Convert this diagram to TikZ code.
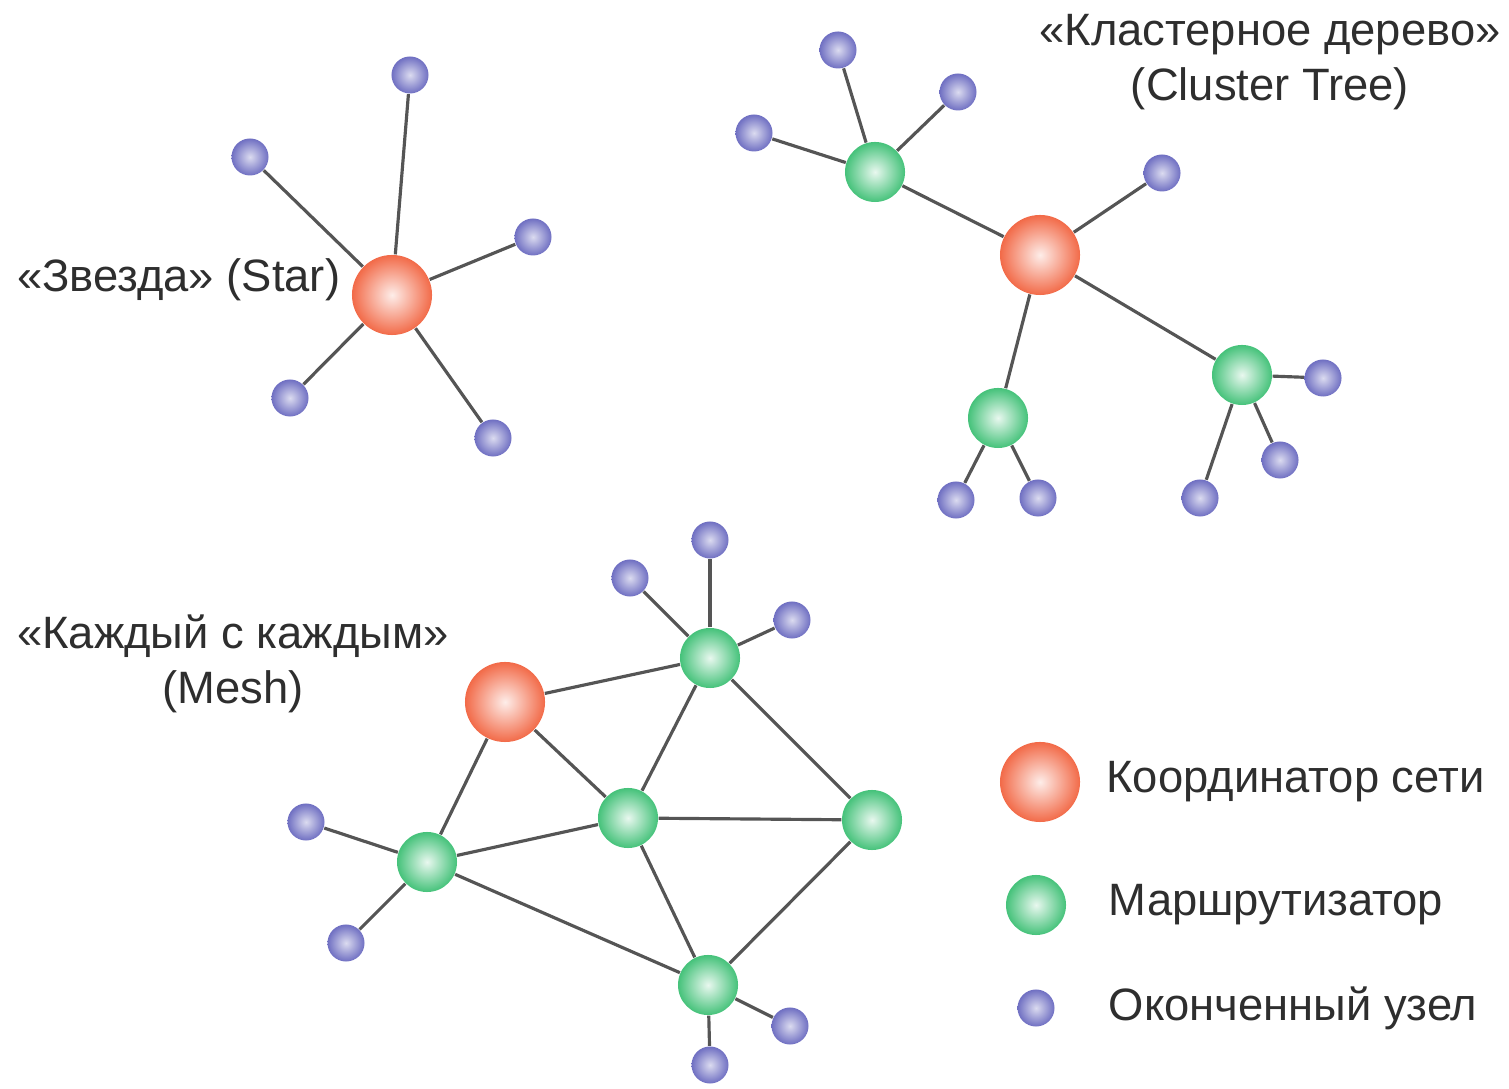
\documentclass[tikz,border=0pt]{standalone}
\usepackage{fontspec}
\setmainfont{Liberation Sans}
\usetikzlibrary{positioning,backgrounds}
\definecolor{nwInk}{HTML}{2E2E2E}
\definecolor{nwLine}{HTML}{555555}
\definecolor{nwOrange}{HTML}{F26A48}
\definecolor{nwGreen}{HTML}{45C27A}
\definecolor{nwPurple}{HTML}{6F6FC2}
\tikzset{
  crd/.style={circle, draw=none, shading=radial, inner color=nwOrange!12, outer color=nwOrange, minimum size=0.8cm, inner sep=0pt},
  rtr/.style={circle, draw=none, shading=radial, inner color=nwGreen!12, outer color=nwGreen, minimum size=0.6cm, inner sep=0pt},
  endn/.style={circle, draw=none, shading=radial, inner color=nwPurple!25, outer color=nwPurple, minimum size=0.37cm, inner sep=0pt},
  lnk/.style={draw=nwLine, line width=0.9pt},
  ttl/.style={font=\fontsize{12.9}{15.5}\selectfont, text=nwInk, align=center, inner sep=0pt},
}
\begin{document}
\begin{tikzpicture}[x=0.01cm, y=-0.01cm]
  \useasboundingbox (0,0) rectangle (1509,1089);
  % star
  \node[crd] (s0) at (392,295) {};
  \node[endn] (s1) at (410,75) {};
  \node[endn] (s2) at (250,157) {};
  \node[endn] (s3) at (533,237) {};
  \node[endn] (s4) at (290,398) {};
  \node[endn] (s5) at (493,438) {};
  \node[ttl, anchor=east] (tstar) at (341,280) {«Звезда» (Star)};
  % cluster tree
  \node[crd] (c0) at (1040,255) {};
  \node[rtr] (cr1) at (875,172) {};
  \node[rtr] (cr2) at (1242,375) {};
  \node[rtr] (cr3) at (998,418) {};
  \node[endn] (ce1) at (838,50) {};
  \node[endn] (ce2) at (958,92) {};
  \node[endn] (ce3) at (754,133) {};
  \node[endn] (ce4) at (1162,173) {};
  \node[endn] (ce5) at (1323,378) {};
  \node[endn] (ce6) at (1280,460) {};
  \node[endn] (ce7) at (1200,498) {};
  \node[endn] (ce8) at (956,500) {};
  \node[endn] (ce9) at (1038,498) {};
  \node[ttl] (ttree) at (1270,62) {«Кластерное дерево»\\(Cluster Tree)};
  % mesh
  \node[crd] (m0) at (505,702) {};
  \node[rtr] (mr1) at (710,658) {};
  \node[rtr] (mr2) at (628,818) {};
  \node[rtr] (mr3) at (872,820) {};
  \node[rtr] (mr4) at (427,862) {};
  \node[rtr] (mr5) at (708,985) {};
  \node[endn] (me1) at (630,578) {};
  \node[endn] (me2) at (710,540) {};
  \node[endn] (me3) at (792,620) {};
  \node[endn] (me4) at (306,822) {};
  \node[endn] (me5) at (346,943) {};
  \node[endn] (me6) at (790,1026) {};
  \node[endn] (me7) at (710,1065) {};
  \node[ttl] (tmesh) at (233,664) {«Каждый с каждым»\\(Mesh)};
  % legend
  \node[crd] (lg1) at (1040,782) {};
  \node[rtr] (lg2) at (1036,905) {};
  \node[endn] (lg3) at (1036,1008) {};
  \node[ttl, right=0.25cm of lg1] (lt1) {Координатор сети};
  \node[ttl, right=0.72cm of lg2.center] (lt2) {Маршрутизатор};
  \node[ttl, right=0.72cm of lg3.center] (lt3) {Оконченный узел};
  \begin{scope}[on background layer]
    \foreach \n in {s1,s2,s3,s4,s5} \draw[lnk] (s0) -- (\n);
    \foreach \n in {cr1,cr2,cr3,ce4} \draw[lnk] (c0) -- (\n);
    \foreach \n in {ce1,ce2,ce3} \draw[lnk] (cr1) -- (\n);
    \foreach \n in {ce5,ce6,ce7} \draw[lnk] (cr2) -- (\n);
    \foreach \n in {ce8,ce9} \draw[lnk] (cr3) -- (\n);
    \foreach \a/\b in {m0/mr1,m0/mr2,m0/mr4,mr1/mr2,mr1/mr3,mr2/mr3,mr2/mr4,mr2/mr5,mr4/mr5,mr3/mr5}
      \draw[lnk] (\a) -- (\b);
    \foreach \n in {me1,me2,me3} \draw[lnk] (mr1) -- (\n);
    \foreach \n in {me4,me5} \draw[lnk] (mr4) -- (\n);
    \foreach \n in {me6,me7} \draw[lnk] (mr5) -- (\n);
  \end{scope}
\end{tikzpicture}
\end{document}
